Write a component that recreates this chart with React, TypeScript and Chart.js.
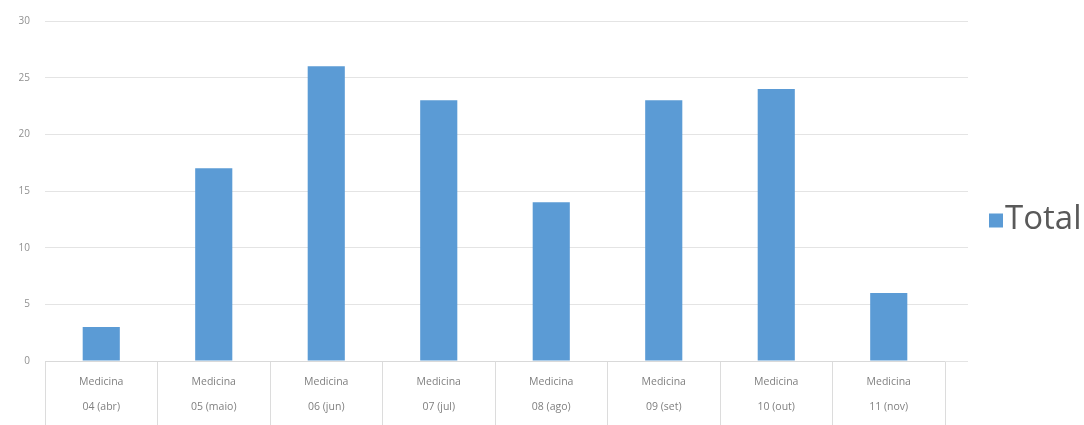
import React, { useEffect, useRef } from "react";
import { Chart, registerables } from "chart.js";

Chart.register(...registerables);

const groupLabel = "Medicina";
const periods = ["04 (abr)", "05 (maio)", "06 (jun)", "07 (jul)", "08 (ago)", "09 (set)", "10 (out)", "11 (nov)"];
const totals = [3, 17, 26, 23, 14, 23, 24, 6];
const seriesName = "Total";
const yTicks = [0, 5, 10, 15, 20, 25, 30];

const BAR_COLOR = "#5B9BD5";
const GRID_COLOR = "#e4e4e4";
const FONT = "'Open Sans', 'Liberation Sans', sans-serif";

const gridExtend = {
  id: "gridExtend",
  beforeDatasetsDraw(chart: any) {
    const y = chart.scales.y;
    const ctx = chart.ctx;
    const right = chart.chartArea.right;
    ctx.save();
    ctx.strokeStyle = GRID_COLOR;
    ctx.lineWidth = 1;
    y.ticks.forEach((t: any) => {
      const py = Math.round(y.getPixelForValue(t.value) - 0.5) + 0.5;
      ctx.beginPath();
      ctx.moveTo(right, py);
      ctx.lineTo(right + 23, py);
      ctx.stroke();
    });
    ctx.restore();
  },
};

const sideLegend = {
  id: "sideLegend",
  afterDraw(chart: any) {
    const ds = chart.data.datasets[0];
    const ctx = chart.ctx;
    const x = chart.chartArea.right + 44;
    const cy = chart.height / 2 + 8;
    ctx.save();
    ctx.fillStyle = ds.backgroundColor;
    ctx.fillRect(x, cy - 7, 14, 14);
    ctx.fillStyle = "#595959";
    ctx.font = `33px ${FONT}`;
    ctx.textBaseline = "middle";
    ctx.textAlign = "left";
    ctx.fillText(ds.label, x + 16, cy - 1);
    ctx.restore();
  },
};

export default function App() {
  const ref = useRef<HTMLCanvasElement>(null);
  useEffect(() => {
    if (!ref.current) return;
    const chart = new Chart(ref.current, {
      type: "bar",
      data: {
        labels: periods.map((p) => [groupLabel, p]),
        datasets: [
          {
            label: seriesName,
            data: totals,
            backgroundColor: BAR_COLOR,
            barPercentage: 0.33,
            categoryPercentage: 1,
          },
        ],
      },
      options: {
        animation: false,
        responsive: true,
        maintainAspectRatio: false,
        layout: { padding: { top: 21, right: 139, left: 0, bottom: 0 } },
        plugins: {
          legend: { display: false },
          tooltip: { enabled: false },
          title: { display: false },
        },
        scales: {
          x: {
            grid: {
              display: true,
              offset: true,
              drawOnChartArea: false,
              drawTicks: true,
              tickLength: 64,
              color: "#dcdcdc",
            },
            border: { display: true, color: "#d9d9d9" },
            ticks: {
              padding: -55.5,
              color: "#808080",
              font: { family: FONT, size: 10.5, lineHeight: "25px" as any },
              maxRotation: 0,
              autoSkip: false,
            },
            afterFit(s: any) {
              s.height = 64;
            },
          },
          y: {
            min: 0,
            max: 30,
            afterBuildTicks(s: any) {
              s.ticks = yTicks.map((v) => ({ value: v }));
            },
            grid: { color: GRID_COLOR, drawTicks: false },
            border: { display: false },
            ticks: {
              padding: 15,
              color: "#909090",
              font: { family: FONT, size: 10 },
            },
            afterFit(s: any) {
              s.width = 45;
            },
          },
        },
      },
      plugins: [gridExtend, sideLegend],
    });
    return () => chart.destroy();
  }, []);
  return (
    <div style={{ position: "absolute", left: 0, top: 0, width: 1084, height: 425, background: "#fff" }}>
      <canvas ref={ref} />
    </div>
  );
}
